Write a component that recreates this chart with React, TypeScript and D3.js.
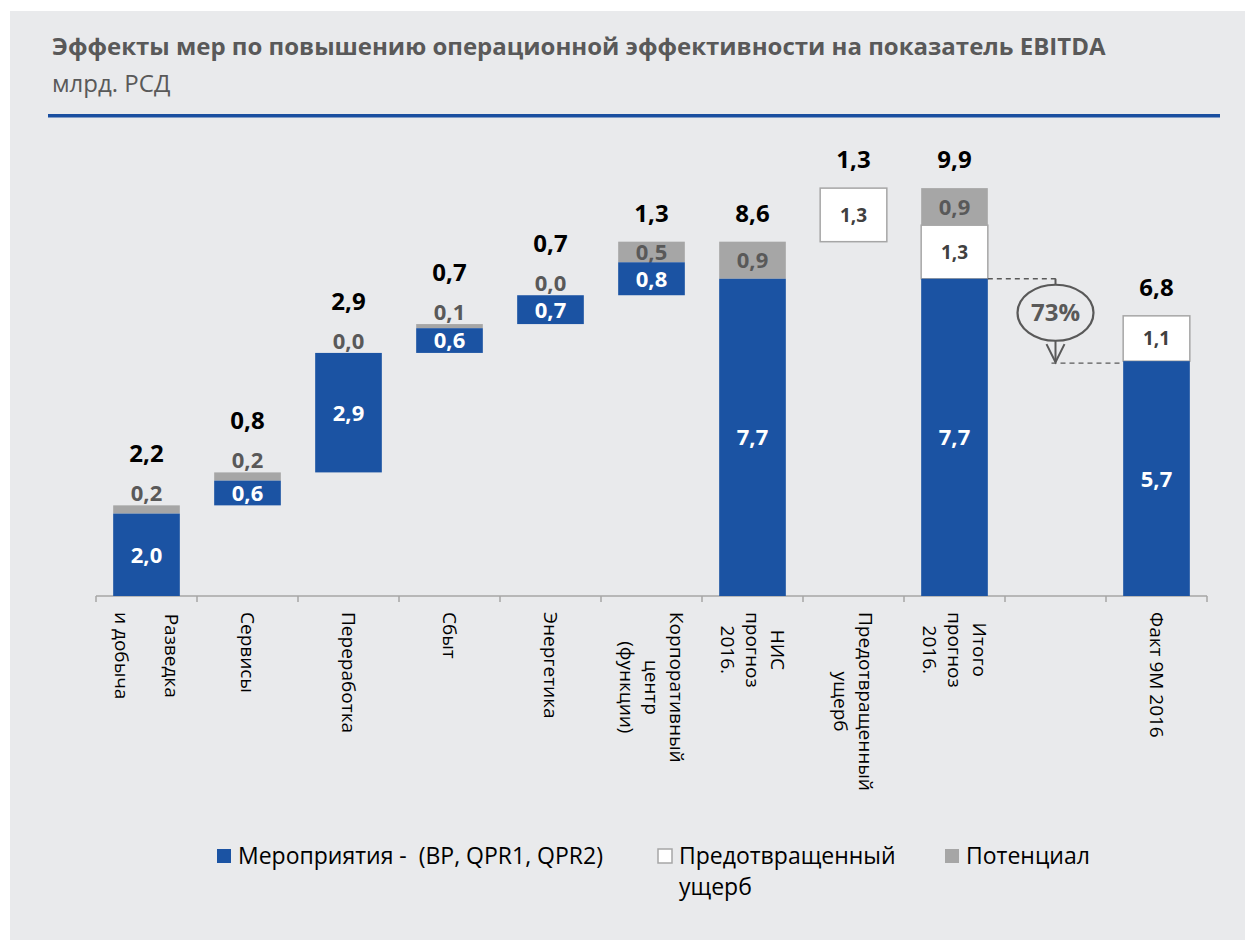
import { useEffect, useRef } from 'react';
import * as d3 from 'd3';

const categories = [
  'Разведка и добыча',
  'Сервисы',
  'Переработка',
  'Сбыт',
  'Энергетика',
  'Корпоративный центр (функции)',
  'НИС прогноз 2016.',
  'Предотвращенный ущерб',
  'Итого прогноз 2016.',
  '',
  'Факт 9М 2016',
];

// axis label lines, first line is drawn right-most
const labelLines = [
  ['Разведка', '', 'и добыча'],
  ['Сервисы'],
  ['Переработка'],
  ['Сбыт'],
  ['Энергетика'],
  ['Корпоративный', 'центр', '(функции)'],
  ['НИС', 'прогноз', '2016.'],
  ['Предотвращенный', 'ущерб'],
  ['Итого', 'прогноз', '2016.'],
  [],
  ['Факт 9М 2016'],
];

// step = floats on running sum, total = starts at zero, none = empty slot
const barKinds = ['step', 'step', 'step', 'step', 'step', 'step', 'total', 'step', 'total', 'none', 'total'];

const measures = [2.0, 0.6, 2.9, 0.6, 0.7, 0.8, 7.7, null, 7.7, null, 5.7];
const prevented = [null, null, null, null, null, null, null, 1.3, 1.3, null, 1.1];
const potential = [0.2, 0.2, 0.0, 0.1, 0.0, 0.5, 0.9, null, 0.9, null, null];
const totals = [2.2, 0.8, 2.9, 0.7, 0.7, 1.3, 8.6, 1.3, 9.9, null, 6.8];

const calloutText = '73%';

const legendItems = [
  { key: 'measures', lines: ['Мероприятия -  (BP, QPR1, QPR2)'] },
  { key: 'prevented', lines: ['Предотвращенный', 'ущерб'] },
  { key: 'potential', lines: ['Потенциал'] },
];

const BLUE = '#1b53a3';
const GRAY = '#a6a6a6';
const DARK = '#595959';
const FONT = '"Open Sans", "Noto Sans", sans-serif';

const fmt = d3.formatLocale({ decimal: ',', thousands: ' ', grouping: [3], currency: ['', ''] }).format('.1f');

export default function App() {
  const ref = useRef<SVGSVGElement>(null);

  useEffect(() => {
    if (!ref.current) return;
    const svg = d3.select(ref.current);
    svg.selectAll('*').remove();

    // background panel
    svg.append('rect').attr('x', 10).attr('y', 11).attr('width', 1235).attr('height', 929).attr('fill', '#e9eaec');

    // title
    svg.append('text')
      .attr('x', 52).attr('y', 55)
      .attr('font-family', FONT).attr('font-weight', 700).attr('font-size', 24)
      .attr('fill', DARK)
      .text('Эффекты мер по повышению операционной эффективности на показатель EBITDA');
    svg.append('text')
      .attr('x', 52).attr('y', 92)
      .attr('font-family', FONT).attr('font-size', 24)
      .attr('fill', DARK)
      .text('млрд. РСД');
    svg.append('rect').attr('x', 48).attr('y', 114).attr('width', 1172).attr('height', 3.5).attr('fill', '#1a4fa0');

    // scales
    const x = d3.scaleBand<string>()
      .domain(categories.map((c, i) => c || `empty-${i}`))
      .range([96, 1207])
      .paddingInner(0.34)
      .paddingOuter(0.17);
    const step = x.step();
    const bw = x.bandwidth();
    const y = d3.scaleLinear().domain([0, 10]).range([596, 184]);
    const keyOf = (i: number) => categories[i] || `empty-${i}`;

    // waterfall bases
    let running = 0;
    const rows = categories.map((_, i) => {
      const kind = barKinds[i];
      const m = measures[i] ?? 0;
      const pr = prevented[i] ?? 0;
      const po = potential[i] ?? 0;
      const base = kind === 'step' ? running : 0;
      if (kind === 'step') running = base + m + pr + po;
      return { i, kind, base, m, pr, po };
    });

    // axis
    const axisG = svg.append('g');
    axisG.append('line')
      .attr('x1', 96).attr('x2', 1207).attr('y1', y(0)).attr('y2', y(0))
      .attr('stroke', GRAY).attr('stroke-width', 1.5);
    d3.range(categories.length + 1).forEach(k => {
      const tx = 96 + k * step;
      axisG.append('line')
        .attr('x1', tx).attr('x2', tx).attr('y1', y(0)).attr('y2', y(0) + 6)
        .attr('stroke', GRAY).attr('stroke-width', 1.5);
    });

    // bars: segments stacked bottom-up, drawn top-down so lower labels sit on top
    const g = svg.append('g');
    rows.forEach(r => {
      if (r.kind === 'none') return;
      const bx = x(keyOf(r.i)) as number;
      const cx = bx + bw / 2;
      type Seg = { key: string; v: number; y0: number; y1: number };
      const segs: Seg[] = [];
      let cur = r.base;
      if (measures[r.i] != null) { segs.push({ key: 'm', v: r.m, y0: y(cur), y1: y(cur + r.m) }); cur += r.m; }
      if (prevented[r.i] != null) { segs.push({ key: 'pr', v: r.pr, y0: y(cur), y1: y(cur + r.pr) }); cur += r.pr; }
      if (potential[r.i] != null) { segs.push({ key: 'po', v: r.po, y0: y(cur), y1: y(cur + r.po) }); cur += r.po; }
      const topY = y(cur);
      let potLabelAbove = false;

      segs.slice().reverse().forEach(s => {
        const h = s.y0 - s.y1;
        if (s.key === 'm') {
          g.append('rect').attr('x', bx).attr('y', s.y1).attr('width', bw).attr('height', h).attr('fill', BLUE);
          g.append('text')
            .attr('x', cx).attr('y', (s.y0 + s.y1) / 2).attr('dy', '0.36em')
            .attr('text-anchor', 'middle')
            .attr('font-family', FONT).attr('font-weight', 700).attr('font-size', 22)
            .attr('fill', '#fff')
            .text(fmt(s.v));
        } else if (s.key === 'pr') {
          g.append('rect').attr('x', bx).attr('y', s.y1).attr('width', bw).attr('height', h)
            .attr('fill', '#fff').attr('stroke', GRAY).attr('stroke-width', 1.5);
          g.append('text')
            .attr('x', cx).attr('y', (s.y0 + s.y1) / 2).attr('dy', '0.36em')
            .attr('text-anchor', 'middle')
            .attr('font-family', FONT).attr('font-weight', 700).attr('font-size', 19)
            .attr('fill', '#404040')
            .text(fmt(s.v));
        } else {
          if (s.v > 0) {
            g.append('rect').attr('x', bx).attr('y', s.y1).attr('width', bw).attr('height', h).attr('fill', GRAY);
          }
          const tall = h >= 15;
          potLabelAbove = !tall;
          g.append('text')
            .attr('x', cx).attr('y', tall ? (s.y0 + s.y1) / 2 : s.y1 - 4).attr('dy', tall ? '0.36em' : 0)
            .attr('text-anchor', 'middle')
            .attr('font-family', FONT).attr('font-weight', 700).attr('font-size', 22)
            .attr('fill', DARK)
            .text(fmt(s.v));
        }
      });

      const tot = totals[r.i];
      if (tot != null) {
        g.append('text')
          .attr('x', cx).attr('y', potLabelAbove ? topY - 43 : topY - 20)
          .attr('text-anchor', 'middle')
          .attr('font-family', FONT).attr('font-weight', 700).attr('font-size', 24)
          .attr('fill', '#000')
          .text(fmt(tot));
      }
    });

    // callout between "Итого" and "Факт"
    const fromIdx = 8, toIdx = 10, midIdx = 9;
    const yTop = y(measures[fromIdx] as number);
    const yBot = y(measures[toIdx] as number);
    const mx = (x(keyOf(midIdx)) as number) + bw / 2;
    const ecy = yTop + 34;
    const rx = 38, ry = 28;
    const co = svg.append('g').attr('stroke', DARK).attr('stroke-width', 1.3).attr('fill', 'none');
    co.append('line')
      .attr('x1', (x(keyOf(fromIdx)) as number) + bw).attr('x2', mx + 4)
      .attr('y1', yTop).attr('y2', yTop).attr('stroke-dasharray', '5,4');
    co.append('line')
      .attr('x1', mx - 4).attr('x2', x(keyOf(toIdx)) as number)
      .attr('y1', yBot + 2).attr('y2', yBot + 2).attr('stroke-dasharray', '5,4');
    co.append('line').attr('x1', mx).attr('x2', mx).attr('y1', yTop).attr('y2', ecy - ry).attr('stroke-width', 2);
    co.append('ellipse').attr('cx', mx).attr('cy', ecy).attr('rx', rx).attr('ry', ry).attr('stroke-width', 2.2);
    co.append('line').attr('x1', mx).attr('x2', mx).attr('y1', ecy + ry).attr('y2', yBot + 1).attr('stroke-width', 2);
    co.append('path')
      .attr('d', `M${mx - 9},${yBot - 17}L${mx},${yBot + 1}L${mx + 9},${yBot - 17}`)
      .attr('stroke-width', 2);
    svg.append('text')
      .attr('x', mx).attr('y', ecy).attr('dy', '0.36em')
      .attr('text-anchor', 'middle')
      .attr('font-family', FONT).attr('font-weight', 700).attr('font-size', 24)
      .attr('fill', DARK)
      .text(calloutText);

    // rotated category labels
    const lh = 25;
    labelLines.forEach((lines, i) => {
      if (!lines.length) return;
      const cx = (x(keyOf(i)) as number) + bw / 2;
      const lg = svg.append('g').attr('transform', `translate(${cx},612) rotate(90)`);
      const texts = lines.map((ln, j) =>
        lg.append('text')
          .attr('y', (j - (lines.length - 1) / 2) * lh)
          .attr('dominant-baseline', 'central')
          .attr('text-anchor', 'middle')
          .attr('font-family', FONT).attr('font-size', 19)
          .attr('fill', '#000')
          .text(ln)
      );
      const maxLen = d3.max(texts, t => (t.node() as SVGTextElement).getComputedTextLength()) || 0;
      texts.forEach(t => t.attr('x', maxLen / 2));
    });

    // legend
    const legendX = [217, 658, 945];
    legendItems.forEach((item, k) => {
      const lx = legendX[k];
      const sw = svg.append('rect').attr('x', lx).attr('y', 849).attr('width', 14).attr('height', 14);
      if (item.key === 'measures') sw.attr('fill', BLUE);
      if (item.key === 'prevented') sw.attr('fill', '#fff').attr('stroke', GRAY).attr('stroke-width', 1.5);
      if (item.key === 'potential') sw.attr('fill', GRAY);
      item.lines.forEach((ln, j) => {
        svg.append('text')
          .attr('x', lx + 21).attr('y', 864 + j * 31)
          .attr('font-family', FONT).attr('font-size', 23)
          .attr('fill', '#000')
          .style('white-space', 'pre')
          .text(ln);
      });
    });
  }, []);

  return (
    <svg
      ref={ref}
      width={1245}
      height={940}
      style={{ position: 'absolute', left: 0, top: 0, background: '#fff' }}
    />
  );
}
